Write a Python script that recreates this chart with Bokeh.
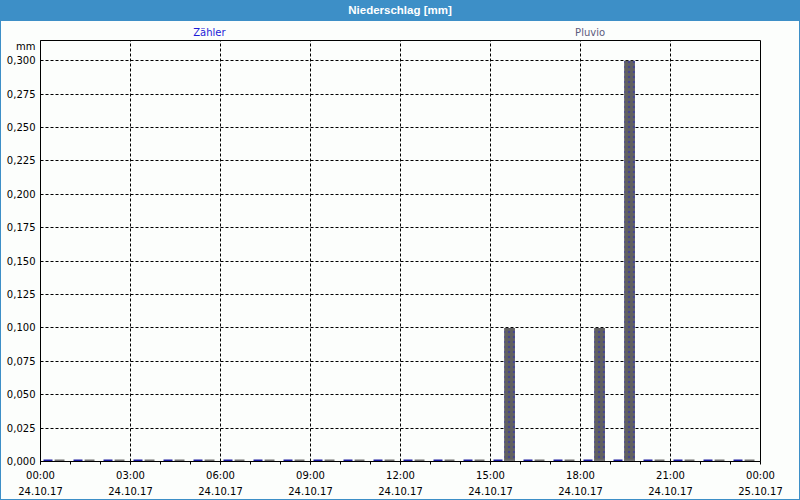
from bokeh.plotting import figure
from bokeh.models import Range1d, FixedTicker, LinearAxis, Div, ColumnDataSource
from bokeh.transform import dodge
from bokeh.layouts import column
from bokeh.core.properties import value
from bokeh.embed import file_html
from bokeh.resources import INLINE

# ---- data ----
hours = [0, 1, 2, 3, 4, 5, 6, 7, 8, 9, 10, 11, 12, 13, 14, 15, 16, 17, 18, 19, 20, 21, 22, 23]
zaehler_mm = [0.0, 0.0, 0.0, 0.0, 0.0, 0.0, 0.0, 0.0, 0.0, 0.0, 0.0, 0.0,
              0.0, 0.0, 0.0, 0.0, 0.0, 0.0, 0.0, 0.0, 0.0, 0.0, 0.0, 0.0]
pluvio_mm = [0.0, 0.0, 0.0, 0.0, 0.0, 0.0, 0.0, 0.0, 0.0, 0.0, 0.0, 0.0,
             0.0, 0.0, 0.0, 0.1, 0.0, 0.0, 0.1, 0.3, 0.0, 0.0, 0.0, 0.0]
x_ticks = [0, 3, 6, 9, 12, 15, 18, 21, 24]
time_labels = ["00:00", "03:00", "06:00", "09:00", "12:00", "15:00", "18:00", "21:00", "00:00"]
date_labels = ["24.10.17", "24.10.17", "24.10.17", "24.10.17", "24.10.17",
               "24.10.17", "24.10.17", "24.10.17", "25.10.17"]
y_ticks = [0.0, 0.025, 0.05, 0.075, 0.1, 0.125, 0.15, 0.175, 0.2, 0.225, 0.25, 0.275, 0.3]
y_tick_labels = ["0,000", "0,025", "0,050", "0,075", "0,100", "0,125", "0,150",
                 "0,175", "0,200", "0,225", "0,250", "0,275", "0,300"]
title_text = "Niederschlag [mm]"
series_names = ["Zähler", "Pluvio"]
unit_label = "mm"

# ---- styles / positions ----
BG = "#fcfefc"
BLUE_BAR = "#1c1ca0"
GRAY_BAR = "#616161"
GRAY_BASE = "#707070"
TITLE_BG = "#3d8fc7"
FONT = "DejaVu Sans"
series_colors = ["#1c1cd8", "#5c5c7c"]
series_label_x = [5.63, 18.32]
series_label_y = [0.40, 0.40]
unit_label_y = 0.3105

# ---- header strip with the series names ----
hdr_src = ColumnDataSource(dict(name=series_names, x=series_label_x,
                                y=series_label_y, color=series_colors))
hdr = figure(width=798, height=18, output_backend="svg", toolbar_location=None,
             x_range=Range1d(0, 24), y_range=Range1d(0, 1),
             min_border_left=39, min_border_right=39, min_border_top=0, min_border_bottom=0,
             x_axis_location=None, y_axis_location=None,
             background_fill_color=BG, border_fill_color=BG, margin=(0, 1, 0, 1))
hdr.outline_line_color = None
hdr.grid.visible = False
hdr.text(x="x", y="y", text="name", source=hdr_src, text_color="color",
         text_align="center", text_baseline="middle",
         text_font=value(FONT), text_font_size="10px")

# ---- main chart ----
src = ColumnDataSource(dict(hour=hours, zaehler=zaehler_mm, pluvio=pluvio_mm))

p = figure(width=798, height=460, output_backend="svg", toolbar_location=None,
           x_range=Range1d(0, 24), y_range=Range1d(0, 0.3152),
           min_border_left=39, min_border_right=39, min_border_top=1, min_border_bottom=38,
           background_fill_color=BG, border_fill_color=BG, margin=(0, 1, 1, 1))

p.outline_line_color = "black"
p.outline_line_alpha = 1.0

# grids
p.xgrid.ticker = FixedTicker(ticks=x_ticks)
p.ygrid.ticker = FixedTicker(ticks=y_ticks)
for g in (p.xgrid[0], p.ygrid[0]):
    g.grid_line_color = "black"
    g.grid_line_dash = "3 2"
    g.grid_line_width = 1

# y axis (with unit label as the topmost label)
ya = p.yaxis[0]
ya.ticker = FixedTicker(ticks=y_ticks + [unit_label_y])
overrides = dict(zip(y_ticks, y_tick_labels))
overrides[unit_label_y] = unit_label
ya.major_label_overrides = overrides
ya.major_tick_out = 0
ya.major_tick_in = 0
ya.minor_tick_out = 0
ya.minor_tick_in = 0
ya.major_label_standoff = 5
ya.axis_line_color = "black"
ya.major_label_text_font = FONT
ya.major_label_text_font_size = "10px"
ya.major_label_text_color = "black"

# x axis (times)
xa = p.xaxis[0]
xa.ticker = FixedTicker(ticks=x_ticks, minor_ticks=hours)
xa.major_label_overrides = dict(zip(x_ticks, time_labels))
xa.major_tick_out = 3
xa.major_tick_in = 0
xa.minor_tick_out = 3
xa.minor_tick_in = 0
xa.major_tick_line_color = "black"
xa.minor_tick_line_color = "black"
xa.axis_line_color = "black"
xa.major_label_standoff = 5
xa.major_label_text_font = FONT
xa.major_label_text_font_size = "10px"
xa.major_label_text_color = "black"

# x axis (dates), second row
da = LinearAxis(ticker=FixedTicker(ticks=x_ticks),
                major_label_overrides=dict(zip(x_ticks, date_labels)),
                axis_line_color=None, major_tick_line_color=None, minor_tick_line_color=None,
                major_tick_out=0, major_tick_in=0, minor_tick_out=0, minor_tick_in=0,
                major_label_standoff=3, major_label_text_font=FONT,
                major_label_text_font_size="10px", major_label_text_color="black")
p.add_layout(da, "below")

# bars: Zähler (blue) and Pluvio (gray) per hour
p.vbar(x=dodge("hour", 0.25, range=p.x_range), top="zaehler", bottom=0, width=0.3,
       source=src, fill_color=BLUE_BAR, line_color=None)
p.vbar(x=dodge("hour", 0.635, range=p.x_range), top="pluvio", bottom=0, width=0.36,
       source=src, fill_color=GRAY_BAR, line_color=None,
       hatch_pattern="dot", hatch_color="#3030b0", hatch_alpha=0.6,
       hatch_scale=5, hatch_weight=0.5)
# minimum visible height of each bar at the base line
p.rect(x=dodge("hour", 0.25, range=p.x_range), y=0, width=0.3, height=4,
       height_units="screen", source=src, fill_color=BLUE_BAR, line_color=None)
p.rect(x=dodge("hour", 0.635, range=p.x_range), y=0, width=0.33, height=4,
       height_units="screen", source=src, fill_color=GRAY_BASE, line_color=None)

title_div = Div(text=title_text, width=800, height=21, margin=0,
                styles={"background-color": TITLE_BG, "color": "white",
                        "font-family": "Liberation Sans", "font-weight": "bold",
                        "font-size": "11.5px", "text-align": "center",
                        "line-height": "21px"})

layout = column(title_div, hdr, p, spacing=0, width=800, height=500,
                styles={"background-color": BG,
                        "box-shadow": "inset 0 0 0 1px " + TITLE_BG})

open("out.html", "w").write(file_html(layout, INLINE))
